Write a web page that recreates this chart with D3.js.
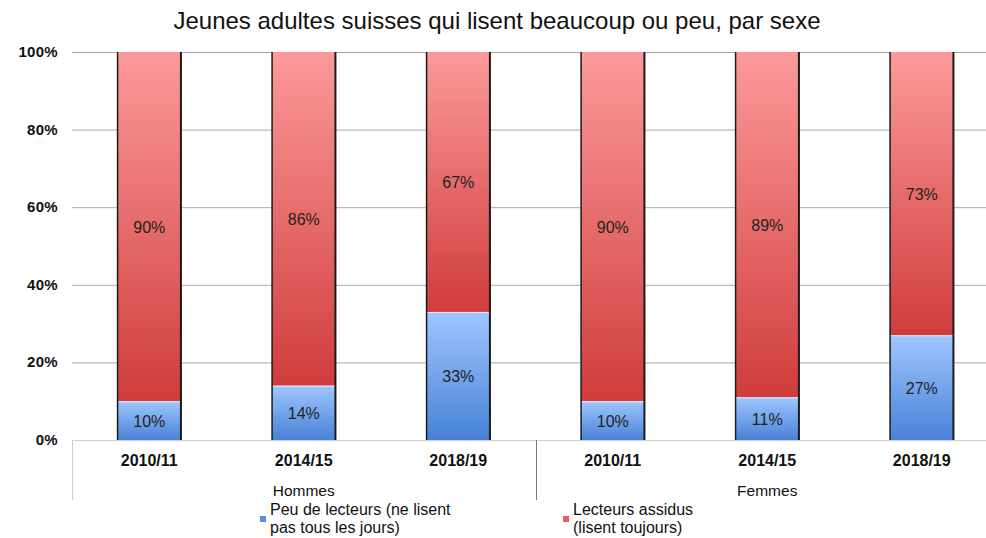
<!DOCTYPE html>
<html lang="fr">
<head>
  <meta charset="UTF-8">
  <title>Jeunes adultes suisses qui lisent beaucoup ou peu</title>
  <script src="https://d3js.org/d3.v7.min.js"></script>
  <style>
    body { margin: 0; background: #fff; font-family: "Liberation Sans", Arial, sans-serif; }
    svg { display: block; }
  </style>
</head>
<body>
  <div id="chart"></div>
  <script>
    const periods = ["2010/11", "2014/15", "2018/19", "2010/11", "2014/15", "2018/19"];
    const groups = ["Hommes", "Femmes"];
    const peuLecteurs = [10, 14, 33, 10, 11, 27];
    const lecteursAssidus = [90, 86, 67, 90, 89, 73];
    const yTicks = [0, 20, 40, 60, 80, 100];
    const seriesNames = ["Peu de lecteurs (ne lisent|pas tous les jours)", "Lecteurs assidus|(lisent toujours)"];

    const width = 986, height = 538;
    const plotLeft = 72, plotTop = 52, plotBottom = 440;

    const svg = d3.select("#chart").append("svg")
      .attr("width", width).attr("height", height);

    const defs = svg.append("defs");
    const gradBlue = defs.append("linearGradient").attr("id", "gBlue")
      .attr("x1", 0).attr("y1", 0).attr("x2", 0).attr("y2", 1);
    gradBlue.append("stop").attr("offset", "0%").attr("stop-color", "#9fc6ff");
    gradBlue.append("stop").attr("offset", "100%").attr("stop-color", "#4882d6");
    const gradRed = defs.append("linearGradient").attr("id", "gRed")
      .attr("x1", 0).attr("y1", 0).attr("x2", 0).attr("y2", 1);
    gradRed.append("stop").attr("offset", "0%").attr("stop-color", "#fc9a9a");
    gradRed.append("stop").attr("offset", "100%").attr("stop-color", "#d03c3c");

    const x = d3.scaleBand().domain(d3.range(periods.length)).range([plotLeft, 999]).paddingInner(0.59).paddingOuter(0.295);
    const y = d3.scaleLinear().domain([0, 100]).range([plotBottom, plotTop]);

    // title
    svg.append("text").attr("x", 497).attr("y", 29).attr("text-anchor", "middle")
      .attr("font-size", 24).attr("fill", "#111")
      .text("Jeunes adultes suisses qui lisent beaucoup ou peu, par sexe");

    // grid
    svg.append("g").selectAll("line").data(yTicks.filter(d => d > 0)).join("line")
      .attr("x1", plotLeft).attr("x2", width).attr("y1", d => y(d) + 0.5).attr("y2", d => y(d) + 0.5)
      .attr("stroke", "#a8a8a8").attr("stroke-width", 1);
    svg.append("line").attr("x1", plotLeft).attr("x2", width).attr("y1", plotBottom + 0.5).attr("y2", plotBottom + 0.5)
      .attr("stroke", "#cfcfcf");

    svg.append("g").selectAll("text").data(yTicks).join("text")
      .attr("x", 58).attr("y", d => y(d) + 5).attr("text-anchor", "end")
      .attr("font-size", 15).attr("font-weight", "bold").attr("fill", "#111")
      .attr("letter-spacing", 0.3)
      .text(d => d + "%");

    // bars
    const bars = svg.append("g").selectAll("g").data(periods.map((p, i) => i)).join("g");
    bars.append("rect")
      .attr("x", i => x(i)).attr("width", x.bandwidth())
      .attr("y", i => y(peuLecteurs[i])).attr("height", i => y(0) - y(peuLecteurs[i]))
      .attr("fill", "url(#gBlue)");
    bars.append("rect")
      .attr("x", i => x(i)).attr("width", x.bandwidth())
      .attr("y", i => y(peuLecteurs[i] + lecteursAssidus[i]))
      .attr("height", i => y(peuLecteurs[i]) - y(peuLecteurs[i] + lecteursAssidus[i]))
      .attr("fill", "url(#gRed)");
    bars.append("line")
      .attr("x1", i => x(i)).attr("x2", i => x(i) + x.bandwidth())
      .attr("y1", i => y(peuLecteurs[i]) + 0.5).attr("y2", i => y(peuLecteurs[i]) + 0.5)
      .attr("stroke", "#e8e8f0").attr("stroke-width", 1);
    bars.append("line")
      .attr("x1", i => x(i)).attr("x2", i => x(i))
      .attr("y1", y(100)).attr("y2", y(0))
      .attr("stroke", "#1a1a1a").attr("stroke-width", 1.5);
    bars.append("line")
      .attr("x1", i => x(i) + x.bandwidth()).attr("x2", i => x(i) + x.bandwidth())
      .attr("y1", y(100)).attr("y2", y(0))
      .attr("stroke", "#1a1a1a").attr("stroke-width", 2);

    bars.append("text")
      .attr("x", i => x(i) + x.bandwidth() / 2).attr("y", i => y(peuLecteurs[i] / 2) + 6)
      .attr("text-anchor", "middle").attr("font-size", 16).attr("fill", "#222")
      .text(i => peuLecteurs[i] + "%");
    bars.append("text")
      .attr("x", i => x(i) + x.bandwidth() / 2)
      .attr("y", i => y(peuLecteurs[i] + lecteursAssidus[i] / 2) + 6)
      .attr("text-anchor", "middle").attr("font-size", 16).attr("fill", "#222")
      .text(i => lecteursAssidus[i] + "%");

    // x axis labels
    svg.append("g").selectAll("text").data(periods).join("text")
      .attr("x", (d, i) => x(i) + x.bandwidth() / 2).attr("y", 466)
      .attr("text-anchor", "middle").attr("font-size", 16).attr("font-weight", "bold").attr("fill", "#111")
      .text(d => d);

    const step = x.step();
    const groupEdges = [plotLeft, plotLeft + 3 * step];
    svg.append("g").selectAll("line").data(groupEdges).join("line")
      .attr("x1", d => Math.round(d) + 0.5).attr("x2", d => Math.round(d) + 0.5)
      .attr("y1", plotBottom).attr("y2", 500)
      .attr("stroke", (d, i) => i === 0 ? "#cccccc" : "#777").attr("stroke-width", 1);

    svg.append("g").selectAll("text").data(groups).join("text")
      .attr("x", (d, i) => plotLeft + (i * 3 + 1.5) * step).attr("y", 496)
      .attr("text-anchor", "middle").attr("font-size", 15.5).attr("fill", "#111")
      .text(d => d);

    // legend
    const legendX = [260, 563];
    const legendFill = ["#5b8fde", "#e06060"];
    const legend = svg.append("g").selectAll("g").data(seriesNames).join("g")
      .attr("transform", (d, i) => `translate(${legendX[i]},0)`);
    legend.append("rect").attr("x", 0).attr("y", 516).attr("width", 6).attr("height", 6)
      .attr("fill", (d, i) => legendFill[i]);
    legend.append("text").attr("font-size", 16).attr("fill", "#111")
      .selectAll("tspan").data(d => d.split("|")).join("tspan")
      .attr("x", 10).attr("y", (d, j) => 515 + j * 18)
      .text(d => d);
  </script>
</body>
</html>
